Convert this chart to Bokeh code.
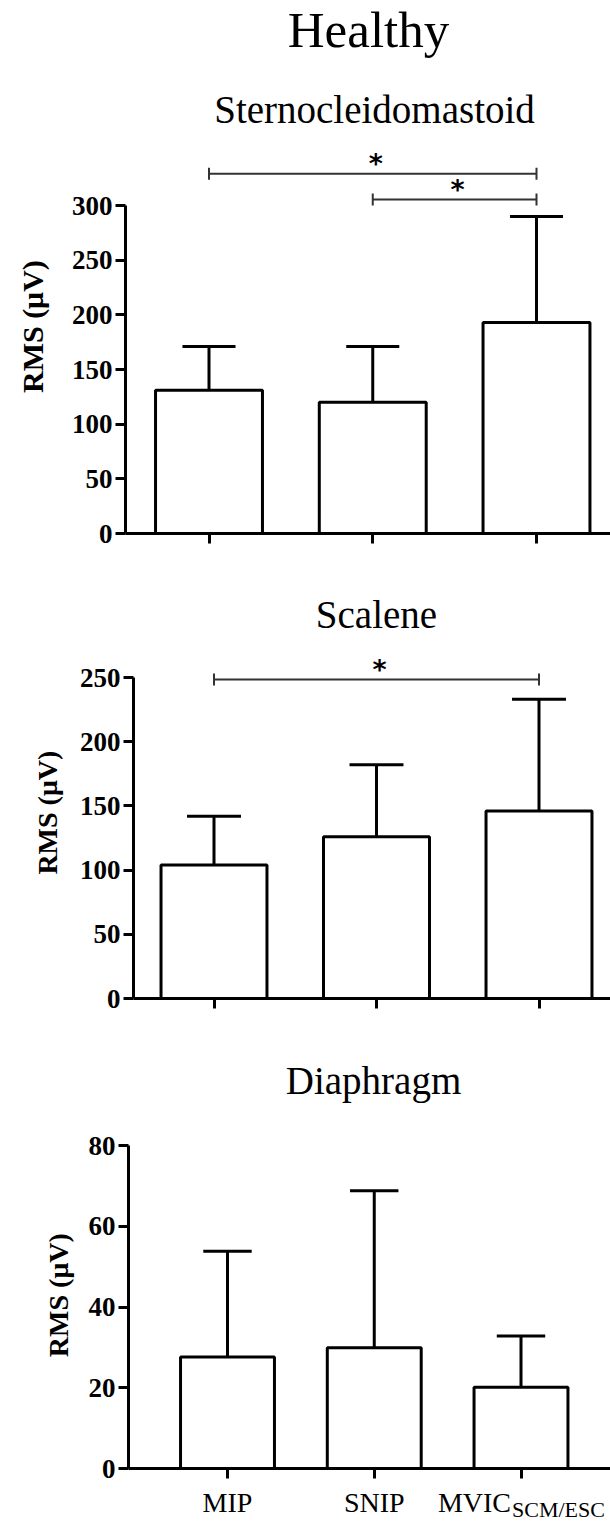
import math
from bokeh.plotting import figure
from bokeh.models import Range1d, FixedTicker, Label
from bokeh.layouts import column, row
from bokeh.core.properties import value
from bokeh.embed import file_html
from bokeh.resources import INLINE

# ---------------- data ----------------
main_title = "Healthy"
categories = ["MIP", "SNIP", "MVIC"]
category_subscripts = ["", "", "SCM/ESC"]
y_label = "RMS (\u03bcV)"

scm_title = "Sternocleidomastoid"
scm_mean = [131, 120, 193]
scm_sd = [40, 51, 97]
scm_ticks = [0, 50, 100, 150, 200, 250, 300]
scm_sig_from = [0, 1]
scm_sig_to = [2, 2]
scm_sig_level = [329, 305.5]

sca_title = "Scalene"
sca_mean = [104, 126, 146]
sca_sd = [38, 56, 87]
sca_ticks = [0, 50, 100, 150, 200, 250]
sca_sig_from = [0]
sca_sig_to = [2]
sca_sig_level = [248.5]

dia_title = "Diaphragm"
dia_mean = [27.6, 29.9, 20.1]
dia_sd = [26.2, 38.9, 12.7]
dia_ticks = [0, 20, 40, 60, 80]
dia_sig_from = []
dia_sig_to = []
dia_sig_level = []

SERIF = "Liberation Serif"
W = 610
MID = 0.34  # em offset between alphabetic baseline and text middle


def x_mapping(spec):
    x0, sp = spec["x0"], spec["spacing"]
    return lambda px: (px - x0) / sp


def bare_figure(width, height, x_range, y_range, left=0, bottom=0):
    p = figure(width=width, height=height, x_range=x_range, y_range=y_range,
               min_border_left=left, min_border_right=0, min_border_top=0,
               min_border_bottom=bottom, title=None,
               toolbar_location=None, output_backend="svg",
               outline_line_color=None, background_fill_color="white",
               border_fill_color="white")
    p.xgrid.visible = False
    p.ygrid.visible = False
    return p


def make_ylabel(spec):
    wl = spec["lab_w"]
    top, h = spec["top"], spec["height"]
    p = bare_figure(wl, h, Range1d(0, wl), Range1d(top + h, top))
    p.xaxis.visible = False
    p.yaxis.visible = False
    fs = spec["lab_fs"]
    p.text(x=[spec["lab_base_x"] - MID * fs], y=[spec["lab_cy"]],
           text=[y_label], angle=math.pi / 2, text_font=value(SERIF),
           text_font_style="bold", text_font_size=f"{fs}px",
           text_align="center", text_baseline="middle", text_color="black")
    return p


def make_panel(title, means, sds, ticks, sig_from, sig_to, sig_level, spec,
               top_title=None):
    top_px = spec["top"]
    height = spec["height"]
    zero = spec["zero"]
    ppu = spec["ppu"]
    ax = spec["axis_x"]
    wl = spec["lab_w"]
    frame_h = zero - top_px
    px_x = x_mapping(spec)

    def px_y(py):
        return (zero - py) / ppu

    p = bare_figure(W - wl, height, Range1d(px_x(ax), px_x(W)),
                    Range1d(0, frame_h / ppu), left=ax - wl,
                    bottom=height - frame_h)

    idx = list(range(len(means)))
    upper = [m + s for m, s in zip(means, sds)]
    bw = spec["bw"]
    cap = spec["cap"]

    p.vbar(x=idx, top=means, bottom=0, width=bw, fill_color="white",
           line_color="black", line_width=3)
    p.segment(x0=idx, y0=means, x1=idx, y1=upper, line_color="black",
              line_width=3)
    p.segment(x0=[i - cap for i in idx], y0=upper,
              x1=[i + cap for i in idx], y1=upper, line_color="black",
              line_width=3)

    # significance brackets
    if sig_level:
        h = 6 / ppu
        bc = "#333333"
        p.segment(x0=sig_from, y0=sig_level, x1=sig_to, y1=sig_level,
                  line_color=bc, line_width=2)
        p.segment(x0=sig_from, y0=[l - h for l in sig_level],
                  x1=sig_from, y1=[l + h for l in sig_level],
                  line_color=bc, line_width=2)
        p.segment(x0=sig_to, y0=[l - h for l in sig_level],
                  x1=sig_to, y1=[l + h for l in sig_level],
                  line_color=bc, line_width=2)
        for a, b, l in zip(sig_from, sig_to, sig_level):
            p.add_layout(Label(x=(a + b) / 2, y=l + 10 / ppu, x_offset=3,
                               text="*", text_font="DejaVu Sans",
                               text_font_style="bold", text_font_size="27px",
                               text_align="center", text_baseline="middle",
                               text_color="black"))

    # titles (positions given as alphabetic baselines, drawn centred)
    p.add_layout(Label(x=px_x(spec["title_x"]),
                       y=px_y(spec["title_base"] - MID * 39),
                       text=title, text_font=SERIF, text_font_size="39px",
                       text_align="center", text_baseline="middle",
                       text_color="black"))
    if top_title:
        p.add_layout(Label(x=px_x(368), y=px_y(47 - MID * 51), text=top_title,
                           text_font=SERIF, text_font_size="51px",
                           text_align="center", text_baseline="middle",
                           text_color="black"))

    # axes
    ya = p.yaxis[0]
    ya.ticker = FixedTicker(ticks=ticks)
    ya.bounds = (ticks[0], ticks[-1])
    ya.axis_line_width = 3
    ya.major_tick_line_width = 3
    ya.major_tick_out = 10
    ya.major_tick_in = 0
    ya.minor_tick_line_color = None
    ya.major_label_text_font = SERIF
    ya.major_label_text_font_style = "bold"
    ya.major_label_text_font_size = "27px"
    ya.major_label_text_color = "black"
    ya.major_label_standoff = 3

    xa = p.xaxis[0]
    xa.ticker = FixedTicker(ticks=idx)
    xa.axis_line_width = 3
    xa.major_tick_line_width = 3
    xa.major_tick_out = 10
    xa.major_tick_in = 0
    xa.minor_tick_line_color = None
    xa.major_label_text_color = None
    return row(make_ylabel(spec), p, spacing=0)


def make_category_row(spec, height, base_px, sub_px):
    # category names under the bottom panel, on the same x scale
    px_x = x_mapping(spec)
    top = spec["row_top"]
    p = bare_figure(W, height, Range1d(px_x(spec["axis_x"]), px_x(W)),
                    Range1d(top + height, top), left=spec["axis_x"])
    p.xaxis.visible = False
    p.yaxis.visible = False
    idx = list(range(len(categories)))
    plain = [i for i in idx if not category_subscripts[i]]
    subbed = [i for i in idx if category_subscripts[i]]
    y_main = base_px - MID * 28
    y_sub = sub_px - MID * 22
    p.text(x=plain, y=[y_main] * len(plain),
           text=[categories[i] for i in plain],
           text_font=value(SERIF), text_font_size="28px",
           text_align="center", text_baseline="middle",
           text_color="black")
    p.text(x=subbed, y=[y_main] * len(subbed),
           text=[categories[i] for i in subbed], x_offset=-10,
           text_font=value(SERIF), text_font_size="28px",
           text_align="right", text_baseline="middle",
           text_color="black")
    p.text(x=subbed, y=[y_sub] * len(subbed),
           text=[category_subscripts[i] for i in subbed], x_offset=-9,
           text_font=value(SERIF), text_font_size="22px",
           text_align="left", text_baseline="middle",
           text_color="black")
    return p


spec1 = dict(top=0, height=590, zero=533, ppu=328 / 300, x0=208.5,
             spacing=163.75, axis_x=125, bw=0.653, cap=0.162,
             title_x=374, title_base=122,
             lab_w=64, lab_fs=30, lab_base_x=42.5, lab_cy=361)
spec2 = dict(top=590, height=450, zero=998, ppu=321 / 250, x0=213.5,
             spacing=162.5, axis_x=133, bw=0.652, cap=0.166,
             title_x=376, title_base=627,
             lab_w=70, lab_fs=28, lab_base_x=57, lab_cy=835)
spec3 = dict(top=1040, height=442, zero=1468, ppu=323 / 80, x0=227,
             spacing=146.75, axis_x=128, bw=0.64, cap=0.165,
             title_x=373, title_base=1093, row_top=1482,
             lab_w=76, lab_fs=28, lab_base_x=68, lab_cy=1303)

p1 = make_panel(scm_title, scm_mean, scm_sd, scm_ticks, scm_sig_from,
                scm_sig_to, scm_sig_level, spec1, top_title=main_title)
p2 = make_panel(sca_title, sca_mean, sca_sd, sca_ticks, sca_sig_from,
                sca_sig_to, sca_sig_level, spec2)
p3 = make_panel(dia_title, dia_mean, dia_sd, dia_ticks, dia_sig_from,
                dia_sig_to, dia_sig_level, spec3)
p4 = make_category_row(spec3, 40, 1512, 1516)

layout = column(p1, p2, p3, p4, spacing=0)
open("out.html", "w").write(file_html(layout, INLINE))
